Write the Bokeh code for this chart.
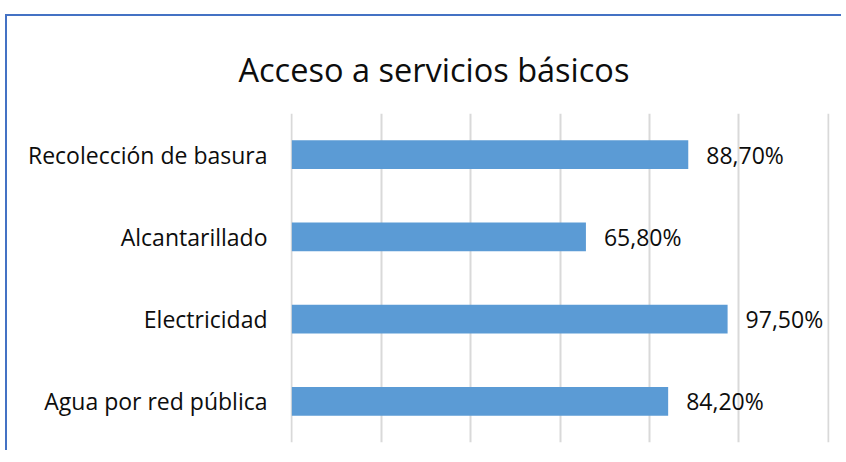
from bokeh.plotting import figure
from bokeh.models import Range1d, FactorRange, FixedTicker, ColumnDataSource, Spacer
from bokeh.layouts import column, row
from bokeh.core.properties import value
from bokeh.embed import file_html
from bokeh.resources import INLINE

title_text = "Acceso a servicios básicos"
categories = ["Agua por red pública", "Electricidad", "Alcantarillado", "Recolección de basura"]
values = [0.842, 0.975, 0.658, 0.887]
x_ticks = [0.0, 0.2, 0.4, 0.6, 0.8, 1.0, 1.2]

labels = [f"{v * 100:.2f}".replace(".", ",") + "%" for v in values]
src = ColumnDataSource(dict(cat=categories, val=values, lab=labels))

FONT = "Open Sans"
TXT = "#0d0d0d"

p = figure(
    width=836, height=436,
    y_range=FactorRange(factors=categories, range_padding=0, factor_padding=0),
    x_range=Range1d(-0.003, 1.203),
    output_backend="svg", toolbar_location=None,
    min_border_left=283, min_border_right=14, min_border_top=97, min_border_bottom=10,
)
p.styles = {"border-top": "2px solid #4472C4", "border-left": "2px solid #4472C4"}
p.outline_line_color = None
p.background_fill_color = "white"
p.border_fill_color = "white"

p.title.text = title_text
p.title.align = "left"
p.title.offset = -52
p.title.vertical_align = "top"
p.title.standoff = 40
p.title.text_font = FONT
p.title.text_font_size = "32.5px"
p.title.text_font_style = "normal"
p.title.text_color = TXT

p.hbar(y="cat", right="val", left=0, height=0.35, source=src,
       fill_color="#5B9BD5", line_color=None)

p.text(x="val", y="cat", text="lab", source=src, x_offset=18,
       text_baseline="middle", text_align="left",
       text_font=value(FONT), text_font_size="23px", text_color=TXT)

p.xaxis.visible = False
p.xgrid.ticker = FixedTicker(ticks=x_ticks)
p.xgrid.grid_line_color = "#D9D9D9"
p.xgrid.grid_line_width = 2
p.ygrid.visible = False

ax = p.yaxis[0]
ax.axis_line_color = None
ax.major_tick_line_color = None
ax.minor_tick_line_color = None
ax.major_label_text_font = FONT
ax.major_label_text_font_size = "23px"
ax.major_label_text_color = TXT
ax.major_label_standoff = 17

layout = column(Spacer(width=840, height=14), row(Spacer(width=5, height=10), p))
open("out.html", "w").write(file_html(layout, INLINE))
